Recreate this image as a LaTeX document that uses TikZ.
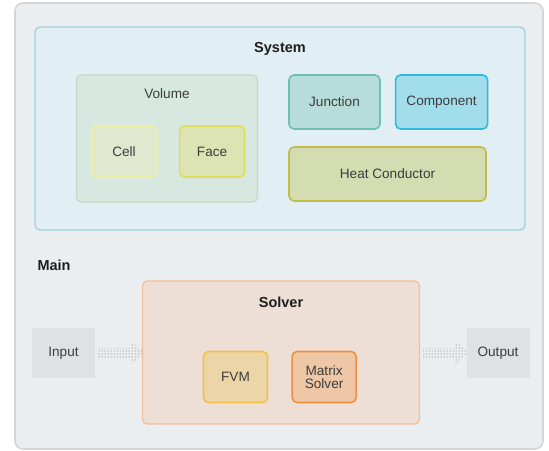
\documentclass[tikz,border=0pt]{standalone}
\usepackage{fontspec}
\setmainfont{Liberation Sans}
\usetikzlibrary{shapes.arrows, positioning, patterns}

\definecolor{framegray}{HTML}{D3D6D9}
\definecolor{framefill}{HTML}{EAEEF1}
\definecolor{textgray}{HTML}{3C3C3C}
\definecolor{titleblack}{HTML}{1E1E1E}
\definecolor{iogray}{HTML}{DFE2E4}
\definecolor{dotgray}{HTML}{5E6062}
\definecolor{sysfill}{HTML}{E1EEF3}
\definecolor{sysdraw}{HTML}{A0D1DA}
\definecolor{volfill}{HTML}{D6E8E0}
\definecolor{voldraw}{HTML}{C0DDC4}
\definecolor{cellfill}{HTML}{E0E9CF}
\definecolor{celldraw}{HTML}{EEEFA2}
\definecolor{facefill}{HTML}{DDE4B4}
\definecolor{facedraw}{HTML}{E0DC5C}
\definecolor{juncfill}{HTML}{B6DDD9}
\definecolor{juncdraw}{HTML}{6DC0B2}
\definecolor{compfill}{HTML}{A2DDEB}
\definecolor{compdraw}{HTML}{30B7E2}
\definecolor{heatfill}{HTML}{D4DCB2}
\definecolor{heatdraw}{HTML}{C2BD4A}
\definecolor{solvfill}{HTML}{EEDFD6}
\definecolor{solvdraw}{HTML}{F6BE94}
\definecolor{fvmfill}{HTML}{ECD6A8}
\definecolor{fvmdraw}{HTML}{F2C04C}
\definecolor{matfill}{HTML}{EEC7A6}
\definecolor{matdraw}{HTML}{EE9040}

\tikzstyle{frame} = [rectangle, rounded corners=8pt,
draw=framegray,
fill=framefill,
line width=1.6pt]
\tikzstyle{group} = [rectangle, rounded corners=5pt,
inner sep=0pt,
line width=1.3pt]
\tikzstyle{block} = [rectangle, rounded corners=5pt,
inner sep=0pt,
line width=1.6pt,
text centered,
align=center,
text=textgray,
font=\fontsize{13.6}{13.5}\selectfont]
\tikzstyle{io} = [rectangle,
minimum width=63pt,
minimum height=50pt,
fill=iogray,
text=textgray,
font=\fontsize{13.6}{15}\selectfont]
\tikzstyle{title} = [font=\fontsize{14.5}{17}\selectfont\bfseries, text=titleblack]
\tikzstyle{flow} = [single arrow, % dotted arrow
minimum height=46pt,
minimum width=22pt,
single arrow head extend=6.5pt,
single arrow tip angle=80,
inner xsep=0pt,
inner ysep=4.5pt,
pattern=dots,
pattern color=dotgray]

\begin{document}
\begin{tikzpicture}[x=1pt, y=-1pt]
    \useasboundingbox (0,0) rectangle (549,450);
    \node (frame) [frame, minimum width=528pt, minimum height=446pt] at (279,226) {};

    % system part
    \node (system) [group, draw=sysdraw, fill=sysfill, minimum width=490pt, minimum height=203pt] at (280,128.5) {};
    \node (systitle) [title] at ([yshift=-23pt]system.north) {System};
    \node (volume) [group, draw=voldraw, fill=volfill, minimum width=181pt, minimum height=127pt] at (167,138.5) {};
    \node (voltitle) [text=textgray, font=\fontsize{13.6}{15}\selectfont] at ([yshift=-19pt]volume.north) {Volume};
    \node (cell) [block, draw=celldraw, fill=cellfill, minimum width=64pt, minimum height=51pt] at (124,151.5) {Cell};
    \node (face) [block, draw=facedraw, fill=facefill, minimum width=65pt, minimum height=51pt, right=22pt of cell] {Face};
    \node (junction) [block, draw=juncdraw, fill=juncfill, minimum width=91pt, minimum height=54pt] at (334.5,102) {Junction};
    \node (component) [block, draw=compdraw, fill=compfill, minimum width=92pt, minimum height=54pt, right=14pt of junction] {Component};
    \node (heat) [block, draw=heatdraw, fill=heatfill, minimum width=197pt, minimum height=54pt] at (387.5,174) {Heat Conductor};

    % main part
    \node (mainlabel) [title, anchor=west] at (34,265) {Main};
    \node (solver) [group, draw=solvdraw, fill=solvfill, minimum width=277pt, minimum height=143pt] at (281,352.5) {};
    \node (soltitle) [title] at ([yshift=-22pt]solver.north) {Solver};
    \node (fvm) [block, draw=fvmdraw, fill=fvmfill, minimum width=64pt, minimum height=51pt] at (235.5,377) {FVM};
    \node (matrix) [block, draw=matdraw, fill=matfill, minimum width=64pt, minimum height=51pt, right=23pt of fvm] {Matrix\\Solver};
    \node (input) [io] at (63.5,353) {Input};
    \node (output) [io] at (498,353) {Output};

    \path (input.east) -- node[flow] {} (solver.west);
    \path (solver.east) -- node[flow] {} (output.west);
\end{tikzpicture}
\end{document}
